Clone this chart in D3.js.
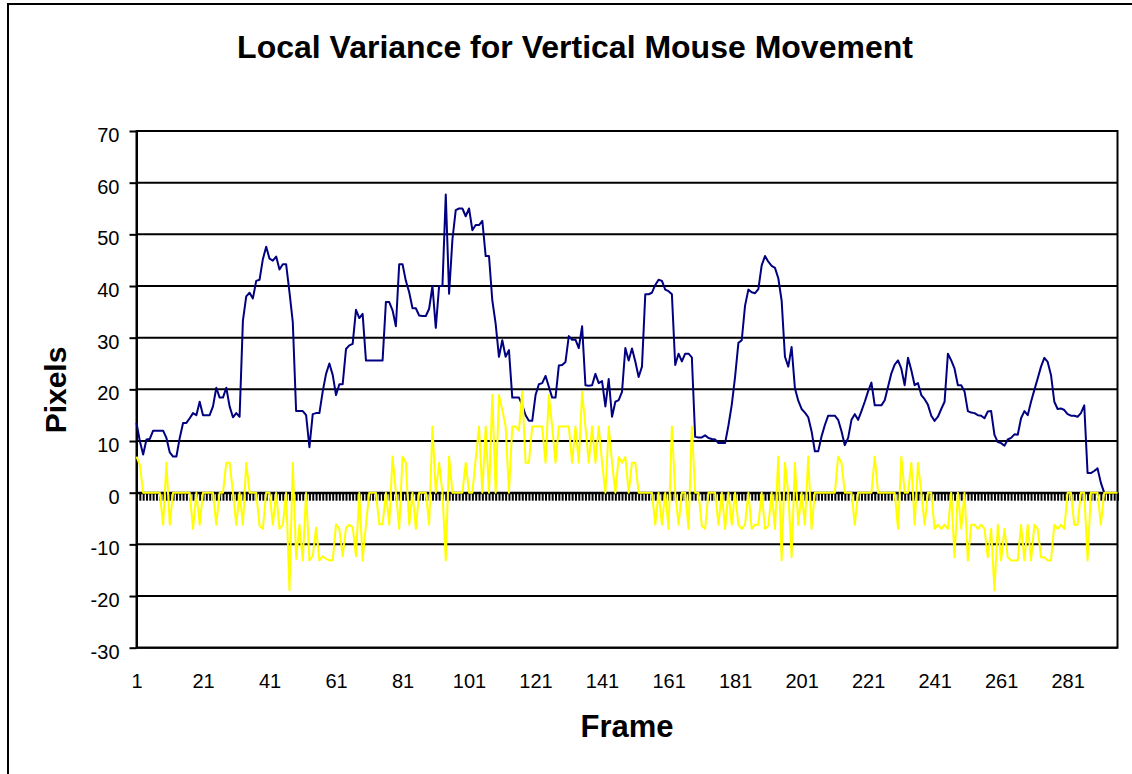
<!DOCTYPE html>
<html>
<head>
<meta charset="utf-8">
<title>Local Variance for Vertical Mouse Movement</title>
<script src="https://cdn.jsdelivr.net/npm/d3@7"></script>
<style>
  html, body { margin: 0; background: #fff; overflow: hidden; }
  svg { display: block; }
  text { font-family: "Liberation Sans", Arial, sans-serif; fill: #000; }
</style>
</head>
<body>
<div id="chart"></div>
<script>
// Frames 1..296 are the categories; labels shown every 20 frames
const frameCount = 296;
const frames = d3.range(1, frameCount + 1);
const labelFrames = [1, 21, 41, 61, 81, 101, 121, 141, 161, 181, 201, 221, 241, 261, 281];
const yTicks = [-30, -20, -10, 0, 10, 20, 30, 40, 50, 60, 70];

// Local variance (dark blue line), one value per frame
const localVariance = [
  13.5, 10, 7.4, 10.3, 10.4, 12, 12, 12, 12, 10.6,
  7.8, 7, 7, 10.6, 13.5, 13.5, 14.4, 15.4, 15, 17.6,
  15, 15, 15, 16.7, 20.3, 18.4, 18.4, 20.3, 16.7, 14.6,
  15.4, 14.7, 33.3, 38, 38.7, 37.6, 41, 41.2, 45.2, 47.6,
  45.3, 44.9, 45.7, 43.2, 44.2, 44.2, 38.8, 33, 15.8, 15.8,
  15.8, 15, 8.8, 15.2, 15.4, 15.4, 19.6, 23, 25, 22.8,
  18.9, 21, 21, 27.8, 28.5, 28.8, 35.4, 33.8, 34.6, 25.6,
  25.6, 25.6, 25.6, 25.6, 25.6, 36.9, 36.9, 35.3, 32.2, 44.2,
  44.2, 41, 38.8, 35.7, 35.7, 34.3, 34.2, 34.2, 35.6, 40,
  31.9, 40, 40, 57.7, 38.5, 49, 54.7, 55, 55, 53.5,
  55, 50.8, 51.8, 51.8, 52.6, 45.8, 45.8, 37.2, 32.7, 26.3,
  29.5, 26.3, 27.6, 18.4, 18.4, 18.4, 17, 15, 13.9, 13.9,
  18.9, 21, 21.2, 22.6, 20.5, 18.4, 18.4, 24.6, 24.7, 25.3,
  30.3, 29.6, 29.6, 28, 32.2, 20.8, 20.7, 20.8, 23, 21.2,
  21.6, 16.7, 22, 14.7, 17.6, 17.9, 19.5, 28, 25.6, 27.9,
  25.4, 22.4, 24.4, 38.4, 38.4, 38.7, 40.2, 41.2, 41, 39.3,
  39, 38.4, 24.7, 26.9, 25.4, 26.9, 26.9, 26.2, 10.8, 10.7,
  10.7, 11.1, 10.6, 10.4, 10.3, 9.6, 9.6, 9.6, 13, 17,
  22.4, 29, 29.5, 36.2, 39.3, 38.8, 38.6, 39.4, 44, 45.8,
  44.7, 43.9, 43.5, 41.5, 37.2, 26.3, 24.4, 28.2, 20.2, 17.8,
  16.2, 15.5, 14.6, 11.9, 8, 8, 10.9, 13.1, 14.9, 14.9,
  14.9, 14.1, 11.9, 9.2, 10.6, 14.1, 15.2, 14.1, 15.8, 17.6,
  19.6, 21.3, 16.9, 16.9, 16.9, 17.9, 20.5, 23.1, 24.8, 25.6,
  24, 20.8, 26.1, 23.7, 20.8, 21.2, 18.9, 18.1, 17, 14.9,
  13.9, 14.7, 16.2, 17.6, 26.9, 25.6, 24, 20.8, 20.8, 19.6,
  15.8, 15.5, 15.4, 15, 14.9, 14.4, 15.7, 15.8, 11.2, 9.8,
  9.6, 9.1, 10.3, 10.6, 11.3, 11.2, 14.4, 15.8, 15, 17.6,
  19.9, 22.1, 24.4, 26.1, 25.3, 22.8, 17.6, 16.2, 16.3, 16,
  15.2, 14.9, 14.9, 14.7, 15.4, 16.9, 3.8, 3.8, 4.2, 4.7,
  1.9, 0
];

// Vertical movement per frame (yellow line)
const movement = [
  7, 5.4, 0, 0, 0, 0, 0, 0, -6.2, 5.8,
  -6.2, 0, 0, 0, 0, 0, 0, -7, 0, -6.2,
  0, 0, 0, 0, -6.2, 0, 0, 5.8, 5.8, 0,
  -6.2, 0, -6.2, 5.8, 0, 0, 0, -6.4, -7, 0,
  0, -6.2, 0, -7, -6.2, 0, -18.9, 5.8, -12.8, -6.2,
  -13.1, 0, -13.1, -12.3, -6.8, -13.1, -12.3, -12.8, -13.1, -13.1,
  -6.1, -7, -12.3, -6.8, -6.2, -6.7, -12.3, 0, -13.1, -6.2,
  0, 0, 0, -6.1, -6.1, 0, -6.2, 7, 0, -7,
  7, 5.8, -6.2, 0, -7, 0, 0, 0, -6.2, 12.8,
  0, 5.8, 0, -13.1, 7, 0, 0, 0, 0, 5.8,
  0, 0, 6.5, 12.8, 0, 12.8, 0, 18.9, 0, 18.9,
  16, 12.8, 0, 12.8, 12.8, 12, 19.5, 5.8, 5.8, 12.8,
  12.8, 12.8, 12.8, 5.8, 18.9, 12.8, 5.8, 12.8, 12.8, 12.8,
  12.8, 5.8, 12.8, 5.8, 19.5, 12.8, 5.8, 12.8, 5.8, 12.8,
  5.8, 0, 12.8, 5.8, 0, 6.9, 5.8, 6.9, 0, 5.8,
  5.8, 0, 0, 0, 0, 0, -6.2, 0, -6.2, 0,
  -7, 12.8, 0, -6.2, 0, 0, -7, 12.8, 0, 0,
  -6.4, -7, 0, 0, 0, -6.2, 0, -7, 0, -6.2,
  0, -6.2, -7, -6.2, 0, -7, -6.2, -6.2, 0, -7,
  -6.4, 0, -7, 7, -13.1, 5.8, 0, -12.5, 5.8, -6.2,
  0, -6.2, 7, -7, 0, 0, 0, 0, 0, 0,
  0, 7, 5.8, 0, 0, 0, -6.2, 0, 0, 0,
  0, 0, 7, 0, 0, 0, 0, 0, 0, -7,
  7, 0, 0, 5.8, -6.2, 5.8, 0, -6.2, 0, 0,
  -7, -6.2, -7, -6.2, -7, 0, -12.5, 0, -7, 0,
  -13.1, -6.2, -6.2, -7, -6.2, -7, -12.5, -7, -18.9, -6.2,
  -13.1, -7, -12.5, -13.1, -13.1, -13.1, -6.2, -13.1, -6.2, -13.1,
  -6.2, -7, -12.5, -12.5, -13.1, -13.1, -6.2, -7, -6.2, -7,
  0, 0, -6.2, -6.2, 0, 0, -13.1, 0, 0, 0,
  -6.2, 0, 0, 0, 0, 0
];

function drawChart() {
    // svg is wider/taller than the window so the chart frame runs off the edges
    const width = 1180;
    const height = 820;
    // plot area edges in page pixels
    const plot = {left: 136.5, right: 1117.5, top: 131, bottom: 647.7};

    const svg = d3.select('#chart').append('svg')
        .attr('width', width)
        .attr('height', height);

    // chart frame (only its left and top edges are inside the window)
    svg.append('rect')
        .attr('x', 8).attr('y', 4)
        .attr('width', 1160).attr('height', 810)
        .attr('fill', '#fff')
        .attr('stroke', '#000')
        .attr('stroke-width', 2);

    let x = d3.scalePoint().domain(frames).range([plot.left, plot.right]);
    let y = d3.scaleLinear().domain([-30, 70]).range([plot.bottom, plot.top]);

    // horizontal gridlines
    svg.append('g').selectAll('line')
        .data(yTicks)
        .enter().append('line')
        .attr('x1', plot.left).attr('x2', plot.right)
        .attr('y1', d => y(d)).attr('y2', d => y(d))
        .attr('stroke', '#000')
        .attr('stroke-width', 2);

    // plot border
    svg.append('rect')
        .attr('x', plot.left).attr('y', plot.top)
        .attr('width', plot.right - plot.left)
        .attr('height', plot.bottom - plot.top)
        .attr('fill', 'none')
        .attr('stroke', '#000')
        .attr('stroke-width', 2);

    // value axis (plain hyphen for negatives, like the original)
    let yAxis = svg.append('g')
        .attr('transform', `translate(${plot.left},0)`)
        .call(d3.axisLeft(y).tickValues(yTicks).tickSize(7).tickSizeOuter(0)
            .tickPadding(10).tickFormat(d => String(d)));
    yAxis.select('.domain').attr('stroke-width', 2);
    yAxis.selectAll('.tick line').attr('stroke-width', 2);
    yAxis.selectAll('.tick text')
        .attr('dy', '0.53em')
        .style('font-size', '20px')
        .style('font-family', '"Liberation Sans", Arial, sans-serif');

    // category axis crossing at zero, with a tick for every frame
    let xAxis = svg.append('g')
        .attr('transform', `translate(0,${y(0)})`)
        .call(d3.axisBottom(x).tickValues(frames).tickSize(8).tickSizeOuter(0).tickFormat(''));
    xAxis.select('.domain').attr('stroke-width', 2);
    xAxis.selectAll('.tick line').attr('stroke-width', 2);

    // category labels sit under the plot
    let xLabels = svg.append('g')
        .attr('transform', `translate(0,${plot.bottom})`)
        .call(d3.axisBottom(x).tickValues(labelFrames).tickSize(0).tickPadding(26));
    xLabels.select('.domain').remove();
    xLabels.selectAll('.tick text')
        .style('font-size', '20px')
        .style('font-family', '"Liberation Sans", Arial, sans-serif');

    // series lines
    let line = d3.line()
        .x((d, i) => x(frames[i]))
        .y(d => y(d));

    svg.append('path')
        .datum(localVariance)
        .attr('d', line)
        .attr('fill', 'none')
        .attr('stroke', '#000080')
        .attr('stroke-width', 2)
        .attr('stroke-linejoin', 'round');

    svg.append('path')
        .datum(movement)
        .attr('d', line)
        .attr('fill', 'none')
        .attr('stroke', '#ffff00')
        .attr('stroke-width', 2)
        .attr('stroke-linejoin', 'round');

    // titles
    svg.append('text')
        .attr('x', 575).attr('y', 58)
        .attr('text-anchor', 'middle')
        .style('font-size', '32px')
        .style('font-weight', 'bold')
        .text('Local Variance for Vertical Mouse Movement');

    svg.append('text')
        .attr('x', (plot.left + plot.right) / 2).attr('y', 737)
        .attr('text-anchor', 'middle')
        .style('font-size', '31px')
        .style('font-weight', 'bold')
        .text('Frame');

    svg.append('text')
        .attr('transform', 'translate(66,390) rotate(-90)')
        .attr('text-anchor', 'middle')
        .style('font-size', '30px')
        .style('font-weight', 'bold')
        .text('Pixels');
}

drawChart();
</script>
</body>
</html>
